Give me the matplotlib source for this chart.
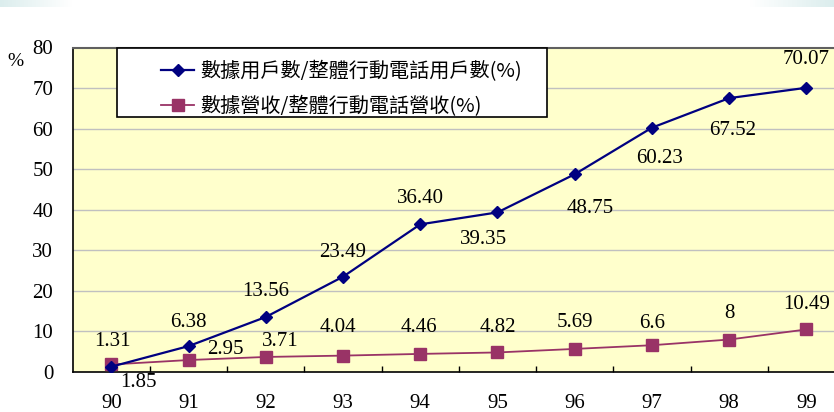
import numpy as np
import matplotlib
matplotlib.use("Agg")
import matplotlib.pyplot as plt
from matplotlib.patches import Rectangle
from matplotlib.lines import Line2D

years = ["90", "91", "92", "93", "94", "95", "96", "97", "98", "99"]
users_ratio = [1.31, 6.38, 13.56, 23.49, 36.40, 39.35, 48.75, 60.23, 67.52, 70.07]
users_labels = ["1.31", "6.38", "13.56", "23.49", "36.40", "39.35", "48.75", "60.23", "67.52", "70.07"]
revenue_ratio = [1.85, 2.95, 3.71, 4.04, 4.46, 4.82, 5.69, 6.6, 8, 10.49]
revenue_labels = ["1.85", "2.95", "3.71", "4.04", "4.46", "4.82", "5.69", "6.6", "8", "10.49"]
series_names = ["數據用戶數/整體行動電話用戶數(%)", "數據營收/整體行動電話營收(%)"]
y_ticks = [0, 10, 20, 30, 40, 50, 60, 70, 80]

# label offsets in pixels (dx, dy)
users_off = [(1, 25), (0, 24), (0, 25), (0, 24), (0, 26), (-14, -27), (15, -34), (8, -31), (3, -32), (0, 28)]
rev_off = [(27, -18), (37, 11), (14, 15), (-5, 28), (-1, 26), (0, 25), (0, 26), (0, 22), (0, 26), (0, 25)]

W, H = 834, 412
fig = plt.figure(figsize=(W / 100, H / 100), dpi=100)
fig.patch.set_facecolor("white")

# decorative gradient strips at top
def strip(x0, x1, reverse):
    a = fig.add_axes([x0 / W, 1 - 7 / H, (x1 - x0) / W, 7 / H])
    g = np.linspace(0, 1, 256)
    if reverse:
        g = g[::-1]
    c0 = np.array([0.86, 0.93, 0.93])
    c1 = np.array([1.0, 1.0, 1.0])
    img = c0[None, None, :] * (1 - g[None, :, None]) + c1[None, None, :] * g[None, :, None]
    a.imshow(img, aspect="auto", extent=[0, 1, 0, 1])
    a.axis("off")

strip(0, 72, False)
strip(750, 834, True)

left, right, top, bottom = 72.7, 845, 47.5, 372
ax = fig.add_axes([left / W, 1 - bottom / H, (right - left) / W, (bottom - top) / H])
ax.set_facecolor("#FFFFCC")
x = np.arange(len(years))
ax.set_xlim(-0.5, len(years) - 0.5)
ax.set_ylim(0, 80)

ax.set_yticks(y_ticks)
ax.set_yticklabels([str(v) for v in y_ticks])
ax.set_xticks(x)
ax.set_xticklabels(years)
ax.set_xticks(np.arange(0.5, len(years) - 0.5, 1), minor=True)
ax.tick_params(axis="x", which="major", length=0, pad=16)
ax.tick_params(axis="x", which="minor", length=4.5, direction="in", width=1, color="black")
ax.tick_params(axis="y", length=0, pad=14)
serif = "Liberation Serif"
for lab in ax.get_xticklabels() + ax.get_yticklabels():
    lab.set_fontfamily(serif)
    lab.set_fontsize(15)
    lab.set_color("black")

for v in y_ticks[1:-1]:
    ax.axhline(v, color="#C0C0C0", lw=1.0, zorder=1)

for s in ["left", "bottom"]:
    ax.spines[s].set_color("black")
    ax.spines[s].set_linewidth(1.2)
ax.spines["top"].set_color("#606060")
ax.spines["top"].set_linewidth(1.5)
ax.spines["right"].set_visible(False)

blue = "#000080"
red = "#993366"
ax.plot(x, users_ratio, color=blue, lw=1.6, marker="D", ms=6.5, mec=blue, mfc=blue, zorder=4)
ax.plot(x, revenue_ratio, color=red, lw=1.3, marker="s", ms=8, mec=red, mfc=red, zorder=3)

for xi, v, t, (dx, dy) in zip(x, users_ratio, users_labels, users_off):
    ax.annotate(t, (xi, v), xytext=(dx, dy), textcoords="offset pixels", ha="center", va="center",
                fontsize=15, fontfamily=serif, color="black", zorder=6)
for xi, v, t, (dx, dy) in zip(x, revenue_ratio, revenue_labels, rev_off):
    ax.annotate(t, (xi, v), xytext=(dx, dy), textcoords="offset pixels", ha="center", va="center",
                fontsize=15, fontfamily=serif, color="black", zorder=6, annotation_clip=False)

# legend box
fig.patches.append(Rectangle((117 / W, 1 - 117 / H), (547 - 117) / W, (117 - 48) / H,
                             transform=fig.transFigure, facecolor="white", edgecolor="black",
                             lw=1.2, zorder=10))
handles = [Line2D([], [], color=blue, lw=1.6, marker="D", ms=6.5),
           Line2D([], [], color=red, lw=1.3, marker="s", ms=8)]
leg = fig.legend(handles, series_names, loc="upper left", bbox_to_anchor=(147 / W, 1 - 47 / H),
                 frameon=False, prop={"family": ["Noto Sans CJK TC", "DejaVu Sans"], "size": 14.5},
                 handlelength=1.65, handletextpad=0.3, labelspacing=0.7, borderpad=0.2)
leg.set_zorder(11)

fig.text(15 / W, 1 - 61 / H, "%", ha="center", va="center", fontsize=14, fontfamily=serif)

fig.savefig("out.png", dpi=100, facecolor="white")
